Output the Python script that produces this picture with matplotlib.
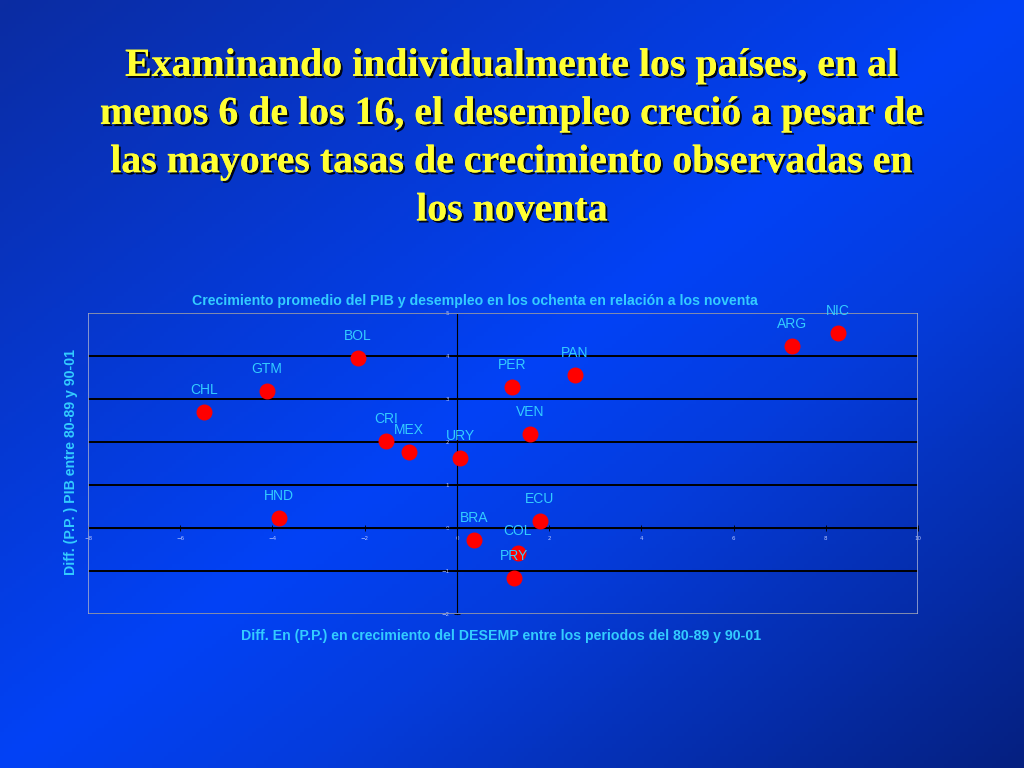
import numpy as np
import matplotlib.pyplot as plt
import matplotlib.patheffects as pe
from matplotlib.colors import LinearSegmentedColormap
from matplotlib.patches import Rectangle

# data
countries = ["BOL", "GTM", "CHL", "CRI", "MEX", "URY", "HND", "BRA",
             "PER", "PAN", "VEN", "ECU", "COL", "PRY", "ARG", "NIC"]
desemp_diff = [-2.15, -4.12, -5.49, -1.54, -1.04, 0.07, -3.86, 0.37,
               1.19, 2.56, 1.58, 1.80, 1.32, 1.24, 7.27, 8.26]
pib_diff = [3.95, 3.19, 2.70, 2.02, 1.77, 1.63, 0.23, -0.28,
            3.28, 3.56, 2.19, 0.16, -0.58, -1.16, 4.23, 4.53]
x_ticks = [-8, -6, -4, -2, 0, 2, 4, 6, 8, 10]
y_ticks = [-2, -1, 0, 1, 2, 3, 4, 5]

title = ("Examinando individualmente los países, en al\n"
         "menos 6 de los 16, el desempleo creció a pesar de\n"
         "las mayores tasas de crecimiento observadas en\n"
         "los noventa")
chart_title = "Crecimiento promedio del PIB y desempleo en los ochenta en relación a los noventa"
xlabel = "Diff. En (P.P.) en crecimiento del DESEMP entre los periodos del 80-89 y 90-01"
ylabel = "Diff. (P.P. ) PIB entre 80-89 y 90-01"

cyan = "#33ccff"

fig = plt.figure(figsize=(10.24, 7.68), dpi=100)

# slide background, diagonal blue gradient
bg = fig.add_axes([0, 0, 1, 1])
bg.set_axis_off()
gx, gy = np.meshgrid(np.linspace(0, 1, 256), np.linspace(0, 1, 192))
t = (gx + gy) / 2
cmap = LinearSegmentedColormap.from_list(
    "slide", [(0, "#0b2ca2"), (0.5, "#0242f6"), (0.65, "#053cdc"), (1, "#062080")])
bg.imshow(t, cmap=cmap, aspect="auto", extent=[0, 1, 0, 1], origin="upper")
bg.set_xlim(0, 1)
bg.set_ylim(0, 1)

fig.text(0.5, 0.8195, title, ha="center", va="center", fontsize=28.7,
         family="Liberation Serif", weight="bold", color="#ffff33",
         linespacing=1.40,
         path_effects=[pe.withSimplePatchShadow(offset=(1.5, -1.5),
                                                shadow_rgbFace="black", alpha=0.9),
                       pe.Normal()])

ax = fig.add_axes([0.086, 0.2005, 0.8105, 0.3919])
ax.set_facecolor("none")
ax.set_xlim(-8, 10)
ax.set_ylim(-2, 5)

for yv in y_ticks:
    ax.axhline(yv, color="black", lw=1.4, zorder=1)

ax.spines["top"].set_visible(False)
ax.spines["right"].set_visible(False)
ax.spines["left"].set_position(("data", 0))
ax.spines["bottom"].set_position(("data", 0))
ax.spines["left"].set_color("black")
ax.spines["bottom"].set_color("black")
ax.add_patch(Rectangle((0, 0), 1, 1, transform=ax.transAxes, fill=False,
                       edgecolor="#9aa6d0", lw=1.2, zorder=3))

ax.set_xticks(x_ticks)
ax.set_yticks(y_ticks)
ax.tick_params(axis="both", direction="inout", length=4, width=0.6,
               labelsize=4, labelcolor="#b8c8ff", color="black")

ax.scatter(desemp_diff, pib_diff, s=110, color="#ff0000", zorder=4)
for name, xv, yv in zip(countries, desemp_diff, pib_diff):
    ax.annotate(name, (xv, yv), xytext=(0, 16), textcoords="offset points",
                ha="center", va="center", fontsize=10, color=cyan,
                family="Liberation Sans", zorder=5, annotation_clip=False)

fig.text(0.464, 0.608, chart_title, ha="center", va="center", fontsize=10.2,
         weight="bold", family="Liberation Sans", color=cyan)
fig.text(0.489, 0.172, xlabel, ha="center", va="center", fontsize=10.2,
         weight="bold", family="Liberation Sans", color=cyan)
fig.text(0.069, 0.398, ylabel, ha="center", va="center", fontsize=10.2,
         weight="bold", family="Liberation Sans", color=cyan, rotation=90)

fig.savefig("out.png", dpi=100)
